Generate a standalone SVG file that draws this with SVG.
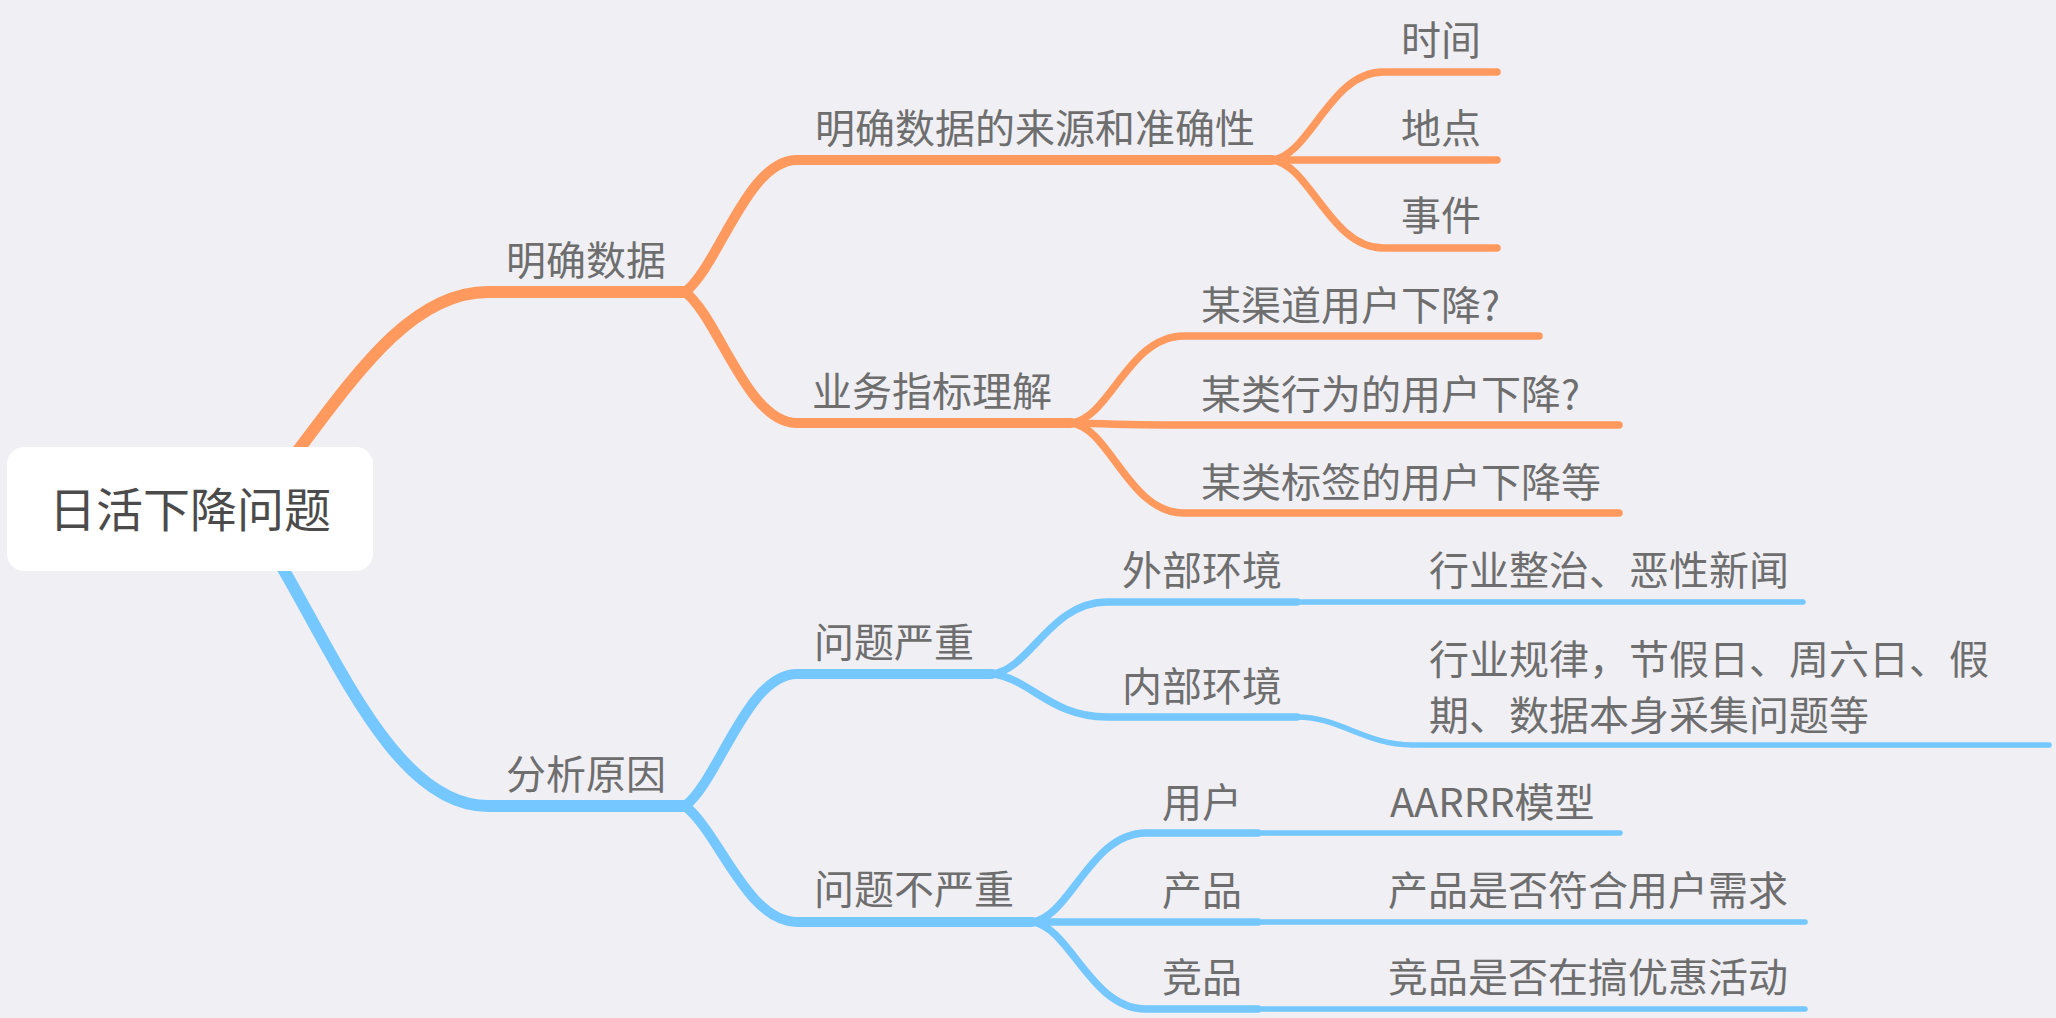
<svg xmlns="http://www.w3.org/2000/svg" width="2056" height="1018" viewBox="0 0 2056 1018">
<style>
.t{font-family:"Noto Sans CJK SC","Noto Sans",sans-serif;font-size:40px;fill:#6e6e6e}
.root{font-family:"Noto Sans CJK SC","Noto Sans",sans-serif;font-size:47px;fill:#4b4b4b}
.o{stroke:#ff995e;fill:none;stroke-linecap:round;stroke-linejoin:round}
.b{stroke:#75c7ff;fill:none;stroke-linecap:round;stroke-linejoin:round}
.w0{stroke-width:12}
.w1{stroke-width:11}
.w2{stroke-width:10}
.w3{stroke-width:7.5}
.w4{stroke-width:5.5}
</style>
<rect width="2056" height="1018" fill="#efeff4"/>
<g id="connectors">
<path class="o w0" d="M 260 500 C 340 400, 400 292, 488 292 L 685 292"/>
<path class="b w0" d="M 260 530 C 330 640, 390 806, 488 806 L 685 806"/>
<path class="o w2" d="M 685 292 C 719 266, 747 160, 797 160 L 1272 160"/>
<path class="o w2" d="M 685 292 C 719 318, 747 423, 797 423 L 1071 423"/>
<path class="o w3" d="M 1272 160 C 1310 156, 1330 72, 1383 72 L 1497 72"/>
<path class="o w3" d="M 1272 160 L 1497 160"/>
<path class="o w3" d="M 1272 160 C 1310 164, 1330 248, 1383 248 L 1497 248"/>
<path class="o w3" d="M 1071 423 C 1110 419, 1128 336, 1184 336 L 1539 336"/>
<path class="o w3" d="M 1071 423 C 1110 424, 1140 425, 1184 425 L 1619 425"/>
<path class="o w3" d="M 1071 423 C 1110 427, 1128 513, 1184 513 L 1619 513"/>
<path class="b w2" d="M 685 806 C 719 780, 747 674, 797 674 L 992 674"/>
<path class="b w2" d="M 685 806 C 719 832, 747 922, 797 922 L 1032 922"/>
<path class="b w3" d="M 992 674 C 1030 670, 1050 602, 1107 602 L 1297 602"/>
<path class="b w3" d="M 992 674 C 1030 678, 1050 717, 1107 717 L 1297 717"/>
<path class="b w4" d="M 1297 602 L 1803 602"/>
<path class="b w4" d="M 1297 717 C 1340 717, 1365 745, 1412 745 L 2049 745"/>
<path class="b w3" d="M 1032 922 C 1070 918, 1090 833, 1146 833 L 1258 833"/>
<path class="b w3" d="M 1032 922 L 1258 922"/>
<path class="b w3" d="M 1032 922 C 1070 926, 1090 1009, 1146 1009 L 1258 1009"/>
<path class="b w4" d="M 1258 833 L 1620 833"/>
<path class="b w4" d="M 1258 922 L 1805 922"/>
<path class="b w4" d="M 1258 1009 L 1805 1009"/>
</g>
<g id="root">
<rect x="7" y="447" width="366" height="124" rx="17" fill="#ffffff"/>
<text class="root" x="190" y="527" text-anchor="middle">日活下降问题</text>
</g>
<g id="n-mingque"><text class="t" x="506" y="275">明确数据</text></g>
<g id="n-laiyuan"><text class="t" x="815" y="143">明确数据的来源和准确性</text></g>
<g id="n-shijian"><text class="t" x="1401" y="55">时间</text></g>
<g id="n-didian"><text class="t" x="1401" y="143">地点</text></g>
<g id="n-shijian2"><text class="t" x="1401" y="230">事件</text></g>
<g id="n-yewu"><text class="t" x="812" y="406">业务指标理解</text></g>
<g id="n-qudao"><text class="t" x="1201" y="320">某渠道用户下降?</text></g>
<g id="n-xingwei"><text class="t" x="1201" y="409">某类行为的用户下降?</text></g>
<g id="n-biaoqian"><text class="t" x="1201" y="497">某类标签的用户下降等</text></g>
<g id="n-fenxi"><text class="t" x="506" y="789">分析原因</text></g>
<g id="n-yanzhong"><text class="t" x="814" y="657">问题严重</text></g>
<g id="n-waibu"><text class="t" x="1122" y="585">外部环境</text></g>
<g id="n-zhengzhi"><text class="t" x="1429" y="585">行业整治、恶性新闻</text></g>
<g id="n-neibu"><text class="t" x="1122" y="701">内部环境</text></g>
<g id="n-guilv"><text class="t" x="1429" y="674">行业规律，节假日、周六日、假</text><text class="t" x="1429" y="730">期、数据本身采集问题等</text></g>
<g id="n-buyanzhong"><text class="t" x="814" y="904">问题不严重</text></g>
<g id="n-yonghu"><text class="t" x="1162" y="817">用户</text></g>
<g id="n-aarrr"><text class="t" x="1390" y="817">AARRR模型</text></g>
<g id="n-chanpin"><text class="t" x="1162" y="905">产品</text></g>
<g id="n-xuqiu"><text class="t" x="1388" y="905">产品是否符合用户需求</text></g>
<g id="n-jingpin"><text class="t" x="1162" y="992">竞品</text></g>
<g id="n-youhui"><text class="t" x="1388" y="992">竞品是否在搞优惠活动</text></g>
</svg>
